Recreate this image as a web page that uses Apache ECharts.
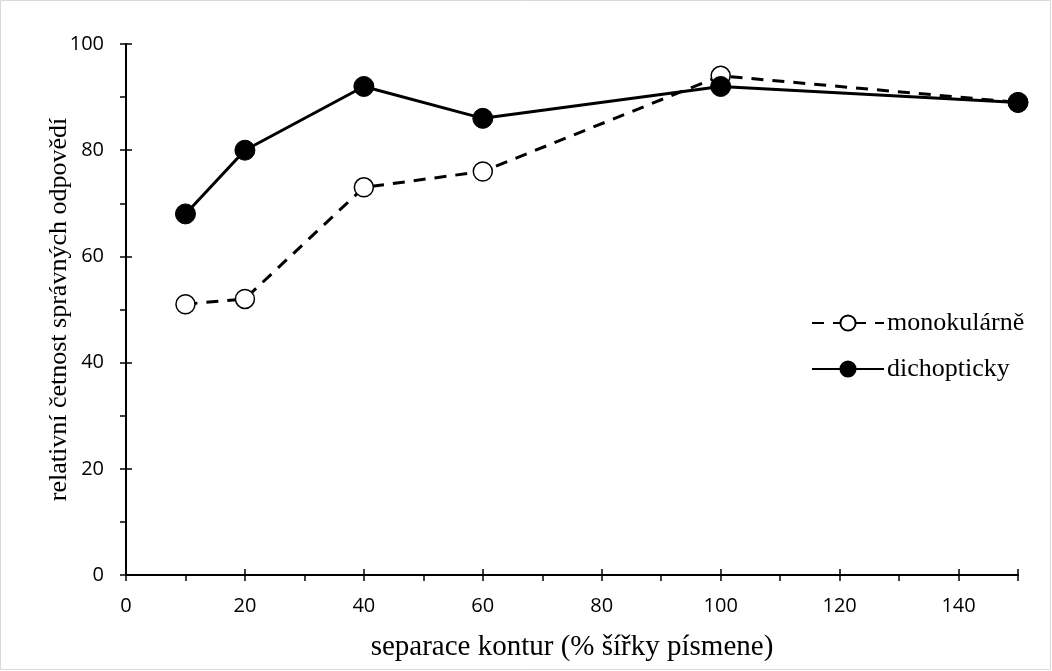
<!DOCTYPE html>
<html>
<head>
<meta charset="utf-8">
<script src="https://cdn.jsdelivr.net/npm/echarts@6/dist/echarts.min.js"></script>
<style>
  html, body { margin: 0; padding: 0; background: #fff; }
  #chart { width: 1052px; height: 671px; }
</style>
</head>
<body>
<div id="chart"></div>
<script>
// separace kontur (% šířky písmene)
const separace = [10, 20, 40, 60, 100, 150]
const monokularne = [51, 52, 73, 76, 94, 89]
const dichopticky = [68, 80, 92, 86, 92, 89]

const serif = "'Liberation Serif', 'DejaVu Serif', serif"
const tickFont = "'Open Sans', 'Liberation Sans', sans-serif"

const toPairs = (xs, ys) => xs.map((x, i) => [x, ys[i]])

const chart = echarts.init(document.getElementById('chart'))

const axisBase = {
  type: 'value',
  axisLine: { show: true, onZero: false, lineStyle: { color: '#000', width: 2 } },
  splitLine: { show: false }
}

chart.setOption({
  animation: false,
  backgroundColor: '#fff',
  graphic: [{
    type: 'rect',
    shape: { x: 0.5, y: 0.5, width: 1050, height: 669 },
    style: { fill: 'none', stroke: '#d9d9d9', lineWidth: 1 }
  }],
  grid: { left: 126, right: 34, top: 44, bottom: 96 },
  legend: {
    orient: 'vertical',
    left: 806,
    top: 305,
    itemWidth: 72,
    itemHeight: 19,
    itemGap: 20,
    textStyle: { fontFamily: serif, fontSize: 26, color: '#000', padding: [0, 0, 0, -2] },
    data: ['monokulárně', 'dichopticky']
  },
  xAxis: [
    {
      ...axisBase,
      min: 0, max: 150, interval: 20,
      name: 'separace kontur (% šířky písmene)',
      nameLocation: 'middle',
      nameGap: 58,
      nameTextStyle: { fontFamily: serif, fontSize: 29, color: '#000' },
      axisTick: { show: true, inside: false, length: 6, lineStyle: { color: '#000', width: 1.5 } },
      minorTick: { show: true, splitNumber: 2, length: 6, lineStyle: { color: '#000', width: 1.5 } },
      axisLabel: { fontFamily: tickFont, fontSize: 20, color: '#000', margin: 21, showMaxLabel: false }
    },
    {
      ...axisBase,
      position: 'bottom',
      min: 0, max: 150, interval: 20,
      axisLine: { show: false },
      axisTick: { show: true, inside: true, length: 6, lineStyle: { color: '#000', width: 1.5 } },
      axisLabel: { show: false }
    }
  ],
  yAxis: [
    {
      ...axisBase,
      min: 0, max: 100, interval: 20,
      name: 'relativní četnost správných odpovědí',
      nameLocation: 'middle',
      nameGap: 54,
      nameMoveOverlap: false,
      nameTextStyle: { fontFamily: serif, fontSize: 26, color: '#000' },
      axisTick: { show: true, inside: false, length: 6, lineStyle: { color: '#000', width: 1.5 } },
      minorTick: { show: true, splitNumber: 2, length: 6, lineStyle: { color: '#000', width: 1.5 } },
      axisLabel: { fontFamily: tickFont, fontSize: 20, color: '#000', margin: 22 }
    },
    {
      ...axisBase,
      position: 'left',
      min: 0, max: 100, interval: 20,
      axisLine: { show: false },
      axisTick: { show: true, inside: true, length: 6, lineStyle: { color: '#000', width: 1.5 } },
      axisLabel: { show: false }
    }
  ],
  series: [
    {
      name: 'monokulárně',
      type: 'line',
      data: toPairs(separace, monokularne),
      symbol: 'circle',
      symbolSize: 19,
      lineStyle: { color: '#000', width: 3, type: [12, 9] },
      itemStyle: { color: '#fff', borderColor: '#000', borderWidth: 1.5 },
      z: 2
    },
    {
      name: 'dichopticky',
      type: 'line',
      data: toPairs(separace, dichopticky),
      symbol: 'circle',
      symbolSize: 20,
      lineStyle: { color: '#000', width: 3 },
      itemStyle: { color: '#000', borderColor: '#000', borderWidth: 1 },
      z: 3
    }
  ]
})
</script>
</body>
</html>
